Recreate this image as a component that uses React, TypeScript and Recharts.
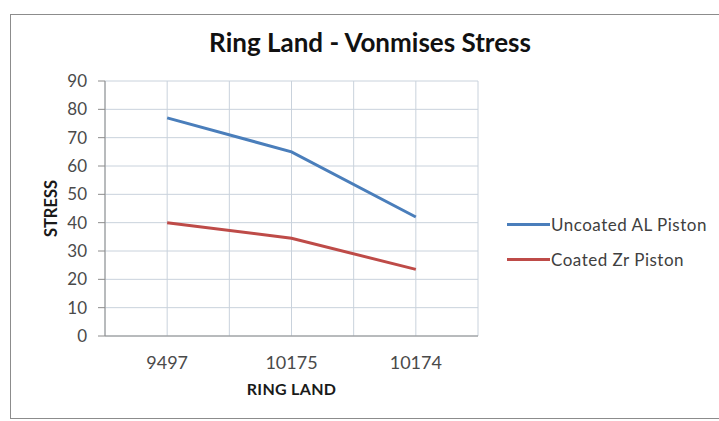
import React from "react";
import {
  LineChart,
  Line,
  XAxis,
  YAxis,
  CartesianGrid,
  Label,
} from "recharts";

// Ring land positions and von Mises stress per piston type
const ringLands = ["9497", "10175", "10174"];
const uncoatedAl = [77, 65, 42];
const coatedZr = [40, 34.5, 23.5];
const stressTicks = [0, 10, 20, 30, 40, 50, 60, 70, 80, 90];
const seriesNames = ["Uncoated AL Piston", "Coated Zr Piston"];

const data = ringLands.map((land, i) => ({
  land,
  uncoated: uncoatedAl[i],
  coated: coatedZr[i],
}));

const FONT = "Lato, 'Open Sans', sans-serif";
const BLUE = "#4a7ebb";
const RED = "#be4b48";
const seriesColors = [BLUE, RED];

function LegendBox() {
  return (
    <div style={{ fontFamily: FONT, fontSize: 17, letterSpacing: 0.5, color: "#404040" }}>
      {seriesNames.map((name, i) => (
        <div key={name} style={{ display: "flex", alignItems: "center", height: 35 }}>
          <span style={{ display: "inline-block", width: 43, height: 3, background: seriesColors[i] }} />
          <span style={{ marginLeft: 1 }}>{name}</span>
        </div>
      ))}
    </div>
  );
}

export default function App() {
  return (
    <div style={{ position: "fixed", left: 0, top: 0, width: 719, height: 421, background: "#fff", overflow: "hidden" }}>
      <div
        style={{
          position: "absolute",
          left: 10,
          top: 14,
          width: 720,
          height: 403,
          border: "1px solid #8c8c8c",
        }}
      />
      <div
        style={{
          position: "absolute",
          left: 170,
          width: 400,
          top: 26,
          textAlign: "center",
          fontFamily: FONT,
          fontWeight: 700,
          fontSize: 26,
          color: "#111",
        }}
      >
        Ring Land - Vonmises Stress
      </div>
      <div style={{ position: "absolute", left: 0, top: 0 }}>
        <LineChart
          width={719}
          height={421}
          data={data}
          margin={{ top: 81, right: 241, left: 45, bottom: 55 }}
        >
          <CartesianGrid
            stroke="#c9d2dc"
            verticalCoordinatesGenerator={({ offset }: any) =>
              Array.from({ length: 7 }, (_, i) => offset.left + (i * offset.width) / 6)
            }
          />
          <XAxis
            dataKey="land"
            scale="band"
            axisLine={{ stroke: "#8c8c8c" }}
            tickLine={false}
            tick={{ fill: "#4a4a4a", fontSize: 18, fontFamily: FONT }}
            tickMargin={14}
            height={30}
          >
            <Label
              value="RING LAND"
              position="insideBottom"
              offset={-29}
              style={{ fill: "#1a1a1a", fontSize: 16, letterSpacing: 0.3, fontWeight: 700, fontFamily: FONT }}
            />
          </XAxis>
          <YAxis
            domain={[0, 90]}
            ticks={stressTicks}
            interval={0}
            axisLine={{ stroke: "#8c8c8c" }}
            tickLine={{ stroke: "#8c8c8c" }}
            tickSize={7}
            tickMargin={11}
            tick={{ fill: "#4a4a4a", fontSize: 17, fontFamily: FONT }}
            width={60}
          >
            <Label
              value="STRESS"
              angle={-90}
              position="insideLeft"
              offset={6}
              style={{ fill: "#1a1a1a", fontSize: 16.5, fontWeight: 700, fontFamily: FONT, textAnchor: "middle" }}
            />
          </YAxis>
          <Line
            dataKey="uncoated"
            name={seriesNames[0]}
            stroke={BLUE}
            strokeWidth={3}
            dot={false}
            isAnimationActive={false}
          />
          <Line
            dataKey="coated"
            name={seriesNames[1]}
            stroke={RED}
            strokeWidth={3}
            dot={false}
            isAnimationActive={false}
          />
        </LineChart>
      </div>
      <div style={{ position: "absolute", left: 507, top: 207 }}>
        <LegendBox />
      </div>
    </div>
  );
}
